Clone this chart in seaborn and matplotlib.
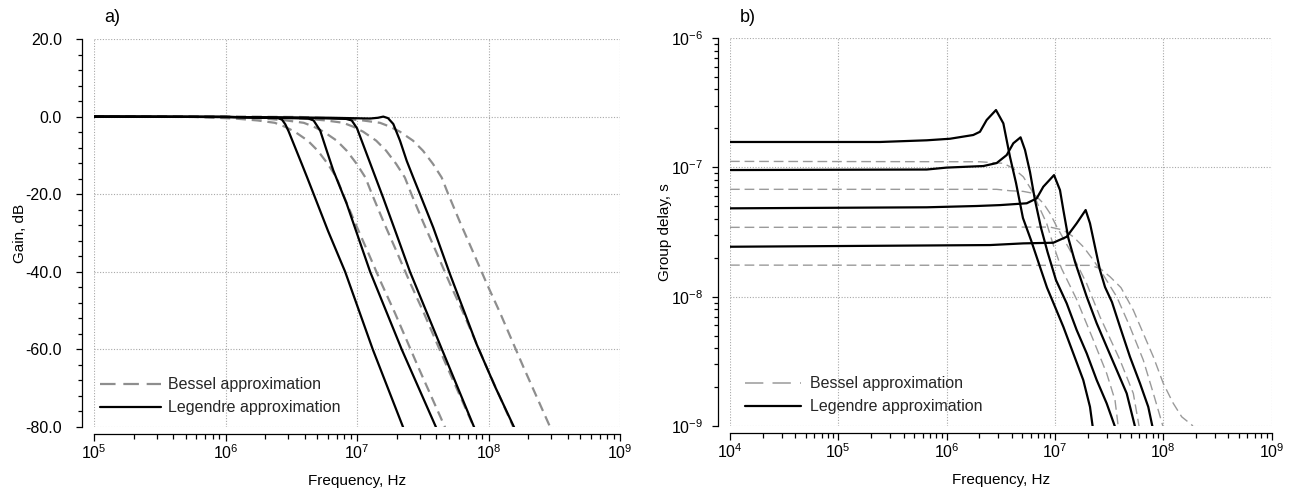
import numpy as np
import matplotlib
matplotlib.use("Agg")
import matplotlib.pyplot as plt
from matplotlib import ticker
from matplotlib.lines import Line2D
import seaborn as sns

# ---------------------------------------------------------------------------
# Data: frequencies and group delays are given as decade exponents (log10)
# ---------------------------------------------------------------------------

# (a) Gain of the Legendre filters, four cut-off frequencies
leg_gain_lgf = [
    [5.0, 6.0, 6.40, 6.43, 6.455, 6.48, 6.53, 6.58, 6.62, 6.665, 6.78, 6.91, 7.12, 7.35, 7.38],
    [5.0, 6.0, 6.50, 6.63, 6.67, 6.72, 6.77, 6.82, 6.871, 6.922, 7.10, 7.34, 7.60, 7.63],
    [5.0, 6.0, 6.70, 6.92, 6.96, 7.0, 7.05, 7.10, 7.15, 7.20, 7.30, 7.403, 7.646, 7.89, 7.92],
    [5.0, 6.0, 6.80, 7.10, 7.16, 7.20, 7.236, 7.276, 7.327, 7.378, 7.428, 7.479, 7.58,
     7.707, 7.91, 8.05, 8.202],
]
leg_gain_db = [
    [0.0, -0.05, -0.4, -0.8, -2.0, -3.8, -8.0, -12.2, -15.6, -19.5, -29.5, -40.0, -60.0,
     -80.0, -82.5],
    [0.0, -0.1, -0.4, -0.5, -1.0, -3.6, -8.8, -13.9, -18.2, -22.5, -40.0, -60.0, -80.0, -82.5],
    [0.0, -0.1, -0.4, -0.6, -1.0, -3.0, -7.5, -12.0, -16.5, -21.0, -30.3, -40.0, -60.0,
     -80.0, -82.5],
    [0.0, -0.1, -0.3, -0.5, -0.3, 0.0, -0.4, -1.9, -6.2, -11.4, -15.7, -20.0, -28.6,
     -40.6, -58.7, -69.6, -80.6],
]

# (a) Gain of the Bessel filters, sampled at common gain levels
bes_gain_lgf = [
    [5.0, 5.2, 5.767, 6.071, 6.246, 6.375, 6.451, 6.527, 6.626, 6.702, 6.778, 6.844,
     6.894, 6.983, 7.084, 7.186, 7.287, 7.465, 7.675],
    [5.0, 5.42, 5.987, 6.291, 6.466, 6.595, 6.671, 6.747, 6.846, 6.922, 6.998, 7.064,
     7.114, 7.203, 7.304, 7.406, 7.507, 7.685, 7.895],
    [5.0, 5.72, 6.287, 6.591, 6.766, 6.895, 6.971, 7.047, 7.146, 7.222, 7.298, 7.364,
     7.414, 7.503, 7.604, 7.706, 7.807, 7.985, 8.195],
    [5.0, 6.0, 6.567, 6.871, 7.046, 7.175, 7.251, 7.327, 7.426, 7.502, 7.578, 7.644,
     7.694, 7.783, 7.884, 7.986, 8.087, 8.265, 8.475],
]
bes_gain_db = [0.0, -0.02, -0.1, -0.5, -1.0, -1.6, -2.6, -3.9, -6.2, -8.8, -12.2, -15.7,
               -20.0, -27.2, -35.0, -43.0, -50.5, -64.5, -80.5]

# (b) Group delay of the Legendre filters
leg_gd_lgf = [
    [4.0, 5.385, 5.816, 6.031, 6.246, 6.308, 6.370, 6.456, 6.524, 6.585, 6.641, 6.705,
     6.779, 6.862, 6.927, 6.982, 7.078, 7.170, 7.262, 7.324, 7.349],
    [4.0, 5.816, 6.001, 6.339, 6.462, 6.555, 6.616, 6.683, 6.724, 6.770, 6.816, 6.872,
     6.932, 7.010, 7.109, 7.201, 7.294, 7.386, 7.478, 7.555],
    [4.0, 5.816, 6.278, 6.493, 6.740, 6.832, 6.893, 6.992, 7.047, 7.078, 7.124, 7.186,
     7.294, 7.386, 7.478, 7.571, 7.663, 7.740],
    [4.0, 6.401, 6.708, 6.985, 7.109, 7.201, 7.284, 7.324, 7.370, 7.416, 7.463, 7.527,
     7.601, 7.693, 7.786, 7.862, 7.901],
]
leg_gd_lgs = [
    [-6.804, -6.804, -6.791, -6.779, -6.750, -6.725, -6.634, -6.557, -6.660, -6.918,
     -7.121, -7.392, -7.562, -7.769, -7.93, -8.04, -8.233, -8.439, -8.645, -8.852, -9.006],
    [-7.021, -7.017, -7.002, -6.990, -6.967, -6.905, -6.814, -6.768, -6.866, -7.036,
     -7.253, -7.469, -7.655, -7.872, -8.052, -8.258, -8.439, -8.645, -8.825, -9.006],
    [-7.317, -7.309, -7.299, -7.292, -7.278, -7.240, -7.150, -7.060, -7.176, -7.330,
     -7.547, -7.732, -8.001, -8.206, -8.387, -8.568, -8.748, -9.006],
    [-7.614, -7.601, -7.588, -7.583, -7.537, -7.433, -7.330, -7.433, -7.614, -7.794,
     -7.926, -8.042, -8.233, -8.465, -8.671, -8.852, -9.006],
]

# (b) Group delay of the Bessel filters
bes_gd_lgf = [
    [4.0, 6.308, 6.431, 6.524, 6.616, 6.708, 6.785, 6.846, 6.924, 6.985, 7.06, 7.20,
     7.355, 7.478, 7.555, 7.585],
    [4.0, 6.462, 6.585, 6.708, 6.801, 6.893, 6.955, 7.017, 7.139, 7.294, 7.416, 7.601,
     7.724, 7.778],
    [4.0, 6.955, 7.078, 7.170, 7.262, 7.355, 7.447, 7.571, 7.693, 7.816, 7.909, 7.990, 7.999],
    [4.0, 7.324, 7.416, 7.509, 7.61, 7.724, 7.816, 7.909, 8.001, 8.093, 8.171, 8.247, 8.275],
]
bes_gd_lgs = [
    [-6.954, -6.957, -6.964, -6.969, -7.008, -7.073, -7.176, -7.292, -7.433, -7.60,
     -7.78, -8.02, -8.336, -8.593, -8.80, -9.006],
    [-7.170, -7.170, -7.181, -7.186, -7.201, -7.278, -7.356, -7.459, -7.64, -7.90,
     -8.155, -8.490, -8.748, -9.006],
    [-7.464, -7.462, -7.485, -7.537, -7.614, -7.717, -7.833, -8.001, -8.233, -8.490,
     -8.748, -8.980, -9.006],
    [-7.756, -7.758, -7.781, -7.846, -7.93, -8.104, -8.284, -8.465, -8.671, -8.825,
     -8.929, -8.980, -9.0],
]

gain_ticks = [-80, -60, -40, -20, 0, 20]
legend_labels = ["Bessel approximation", "Legendre approximation"]

# ---------------------------------------------------------------------------
# Style
# ---------------------------------------------------------------------------
sns.set_theme(style="white")
plt.rcParams["font.family"] = ["Liberation Sans", "DejaVu Sans"]
plt.rcParams["mathtext.fontset"] = "custom"
plt.rcParams["mathtext.rm"] = "Liberation Sans"
plt.rcParams["mathtext.it"] = "Liberation Sans:italic"
plt.rcParams["mathtext.bf"] = "Liberation Sans:bold"
plt.rcParams["mathtext.default"] = "regular"

TICK_FS = 11.5
LABEL_FS = 11
GRID_COLOR = "#a8a8a8"
BES_GRAY_A = "#8e8e8e"
BES_GRAY_B = "#9a9a9a"


def hz(exps):
    return np.power(10.0, np.asarray(exps, dtype=float))


def style_axes(ax):
    for side in ("top", "right"):
        ax.spines[side].set_visible(False)
    ax.spines["left"].set_position(("outward", 8.5))
    ax.spines["bottom"].set_position(("outward", 5))
    for side in ("left", "bottom"):
        ax.spines[side].set_color("black")
        ax.spines[side].set_linewidth(0.9)
    ax.set_xscale("log")
    ax.xaxis.set_major_locator(ticker.LogLocator(base=10, numticks=20))
    ax.xaxis.set_minor_locator(ticker.LogLocator(base=10, subs=np.arange(2, 10), numticks=20))
    ax.xaxis.set_major_formatter(ticker.LogFormatterMathtext())
    ax.xaxis.set_minor_formatter(ticker.NullFormatter())
    ax.tick_params(which="both", direction="out", color="black", width=0.9,
                   left=True, bottom=True, labelsize=TICK_FS, labelcolor="black")
    ax.tick_params(axis="y", which="major", length=4.5, pad=10)
    ax.tick_params(axis="y", which="minor", length=3)
    ax.tick_params(axis="x", which="major", length=5, pad=1.5)
    ax.tick_params(axis="x", which="minor", length=3.5)
    ax.grid(True, which="major", linestyle=(0, (1, 1.5)), color=GRID_COLOR, linewidth=0.8)
    ax.grid(False, which="minor")
    ax.set_axisbelow(True)


fig = plt.figure(figsize=(12.95, 4.94), dpi=100)
ax_gain = fig.add_axes([94 / 1295, 67 / 494, 526 / 1295, 388 / 494])
ax_gd = fig.add_axes([730 / 1295, 68 / 494, 541.5 / 1295, 388 / 494])

# ---------------------------------------------------------------------------
# (a) Gain
# ---------------------------------------------------------------------------
style_axes(ax_gain)
for f in bes_gain_lgf:
    sns.lineplot(x=hz(f), y=bes_gain_db, ax=ax_gain, color=BES_GRAY_A, linewidth=1.6,
                 linestyle=(0, (4.5, 2.6)), sort=False, estimator=None, legend=False)
for f, g in zip(leg_gain_lgf, leg_gain_db):
    sns.lineplot(x=hz(f), y=g, ax=ax_gain, color="black", linewidth=1.6,
                 sort=False, estimator=None, legend=False)

ax_gain.set_xlim(1e5, 1e9)
ax_gain.set_ylim(-80, 20)
ax_gain.yaxis.set_major_locator(ticker.FixedLocator(gain_ticks))
ax_gain.yaxis.set_minor_locator(ticker.MultipleLocator(4))
ax_gain.yaxis.set_major_formatter(ticker.FuncFormatter(lambda v, _: f"{v:.1f}"))
ax_gain.set_xlabel("Frequency, Hz", fontsize=LABEL_FS, color="black")
ax_gain.set_ylabel("Gain, dB", fontsize=LABEL_FS, color="black")
ax_gain.xaxis.set_label_coords(0.5, -0.122)
ax_gain.yaxis.set_label_coords(-0.128, 0.5)

handles_a = [
    Line2D([], [], color=BES_GRAY_A, linewidth=1.6, linestyle=(0, (7, 3.5))),
    Line2D([], [], color="black", linewidth=1.6),
]
ax_gain.legend(handles_a, legend_labels, loc="lower left", bbox_to_anchor=(0.012, 0.03),
               frameon=False, fontsize=TICK_FS, handlelength=3.8, handletextpad=0.45,
               labelspacing=0.5, borderpad=0, borderaxespad=0)

# ---------------------------------------------------------------------------
# (b) Group delay
# ---------------------------------------------------------------------------
style_axes(ax_gd)
ax_gd.set_yscale("log")
for f, s in zip(bes_gd_lgf, bes_gd_lgs):
    sns.lineplot(x=hz(f), y=hz(s), ax=ax_gd, color=BES_GRAY_B, linewidth=1.0,
                 linestyle=(0, (7, 3.5)), sort=False, estimator=None, legend=False)
for f, s in zip(leg_gd_lgf, leg_gd_lgs):
    sns.lineplot(x=hz(f), y=hz(s), ax=ax_gd, color="black", linewidth=1.6,
                 sort=False, estimator=None, legend=False)

ax_gd.set_xlim(1e4, 1e9)
ax_gd.set_ylim(1e-9, 1e-6)
ax_gd.yaxis.set_major_locator(ticker.LogLocator(base=10, numticks=10))
ax_gd.yaxis.set_minor_locator(ticker.LogLocator(base=10, subs=np.arange(2, 10), numticks=10))
ax_gd.yaxis.set_major_formatter(ticker.LogFormatterMathtext())
ax_gd.yaxis.set_minor_formatter(ticker.NullFormatter())
ax_gd.tick_params(axis="y", which="major", pad=6)
ax_gd.set_xlabel("Frequency, Hz", fontsize=LABEL_FS, color="black")
ax_gd.set_ylabel("Group delay, s", fontsize=LABEL_FS, color="black")
ax_gd.xaxis.set_label_coords(0.5, -0.122)
ax_gd.yaxis.set_label_coords(-0.108, 0.5)

handles_b = [
    Line2D([], [], color=BES_GRAY_B, linewidth=1.1, linestyle=(0, (12, 6))),
    Line2D([], [], color="black", linewidth=1.6),
]
ax_gd.legend(handles_b, legend_labels, loc="lower left", bbox_to_anchor=(0.027, 0.03),
             frameon=False, fontsize=TICK_FS, handlelength=3.5, handletextpad=0.6,
             labelspacing=0.5, borderpad=0, borderaxespad=0)

# Panel letters
fig.text(104 / 1295, 1 - 18 / 494, "a)", fontsize=13, ha="left", va="center", color="black")
fig.text(740 / 1295, 1 - 18 / 494, "b)", fontsize=13, ha="left", va="center", color="black")

fig.savefig("out.png", dpi=100)
